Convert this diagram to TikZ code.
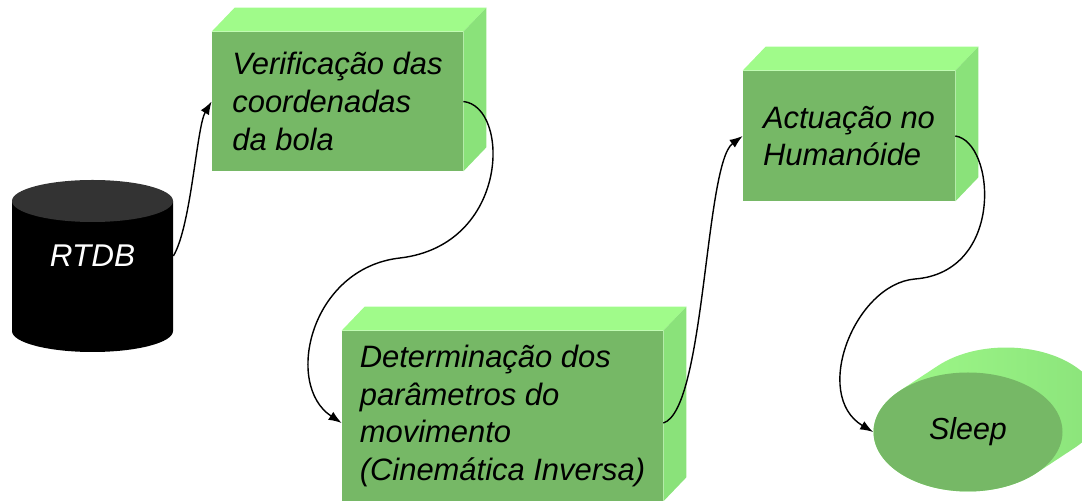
\documentclass[tikz,border=0pt]{standalone}
\usepackage{fontspec}
\setmainfont{Liberation Sans}
\usetikzlibrary{shapes.geometric,arrows.meta,calc}
\definecolor{frontgreen}{RGB}{118,184,102}
\definecolor{topgreen}{RGB}{160,251,138}
\definecolor{sidegreen}{RGB}{138,226,122}
\definecolor{dbtop}{RGB}{51,51,51}
\tikzset{
  stepbox/.style={rectangle,fill=frontgreen,align=left,inner sep=0pt,font=\itshape\fontsize{17.6}{21.5}\selectfont},
  flow/.style={line width=0.8pt,-{Latex[length=2.6mm,width=1.9mm]}}
}
\begin{document}
\begin{tikzpicture}
\useasboundingbox (0,0) rectangle (21.64,10.02);
\fill[black] (0.24,6.0) -- (0.24,3.4) arc[start angle=180,end angle=360,x radius=1.61,y radius=0.42] -- (3.46,6.0) -- cycle;
\fill[dbtop] (1.85,6.0) ellipse[x radius=1.61,y radius=0.42];
\node[minimum width=3.22cm,inner sep=0pt,text=white,font=\itshape\fontsize{17.9}{21}\selectfont] (rtdb) at (1.85,4.9) {RTDB};
\node[stepbox,minimum width=5.02cm,minimum height=2.78cm] (verif) at (6.75,7.99) {Verificação das\\coordenadas\\da bola};
\node[stepbox,minimum width=6.42cm,minimum height=3.4cm] (param) at (10.05,1.7) {Determinação dos\\parâmetros do\\movimento\\(Cinemática Inversa)};
\node[stepbox,minimum width=4.24cm,minimum height=2.6cm] (act) at (16.98,7.3) {Actuação no\\Humanóide};
\foreach \n in {verif,param,act} {
  \fill[topgreen] (\n.north west) -- ++(0.46,0.48) -- ($(\n.north east)+(0.46,0.48)$) -- (\n.north east) -- cycle;
  \fill[sidegreen] (\n.north east) -- ++(0.46,0.48) -- ($(\n.south east)+(0.46,0.48)$) -- (\n.south east) -- cycle;
}
\shade[left color=topgreen,right color=sidegreen] (19.36,1.38) ++(136.3:1.89 and 1.19) -- ++(0.76,0.5) arc[start angle=136.3,end angle=-43.7,x radius=1.89,y radius=1.19] -- ++(-0.76,-0.5) arc[start angle=-43.7,end angle=-223.7,x radius=1.89,y radius=1.19] -- cycle;
\node[ellipse,fill=frontgreen,minimum width=3.78cm,minimum height=2.38cm,inner sep=0pt,font=\itshape\fontsize{17.3}{21}\selectfont] (sleep) at (19.36,1.38) {Sleep};
\draw[flow] (rtdb.east) .. controls +(0.36,0.6) and +(-0.3,-0.5) .. (verif.west);
\draw[flow] (verif.east) .. controls +(0.94,-0.1) and +(2.2,0.26) .. (8,4.86) .. controls +(-1.8,-0.2) and +(-1.16,0.76) .. ([yshift=-1.4mm]param.west);
\draw[flow] ([yshift=-1.4mm]param.east) .. controls +(0.84,0.26) and +(-0.76,-0.56) .. (act.west);
\draw[flow] (act.east) .. controls +(0.8,-0.12) and +(1.8,0.14) .. (18.3,4.44) .. controls +(-1.2,-0.1) and +(-1.24,0.74) .. (sleep.west);
\end{tikzpicture}
\end{document}
